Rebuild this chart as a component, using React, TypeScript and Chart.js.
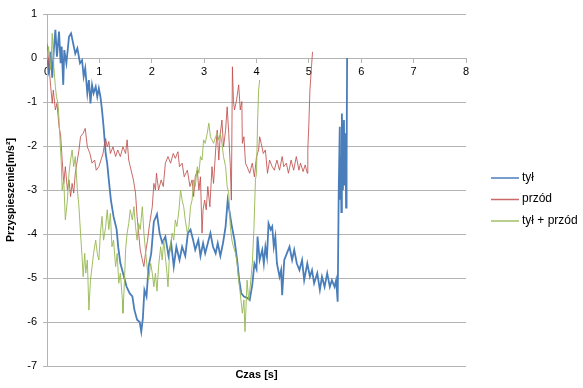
import { useEffect, useRef } from "react";
import { Chart, registerables } from "chart.js";

Chart.register(...registerables);

const seriesNames = ["tył", "przód", "tył + przód"];
const seriesColors = ["#4A7EBB", "rgba(192,80,77,0.85)", "rgba(155,187,89,0.95)"];
const xTitle = "Czas [s]";
const yTitle = "Przyspieszenie[m/s²]";

const tyl: [number, number][] = [
  [0, 0.03], [0.03, -0.27], [0.07, 0.14], [0.1, -0.45], [0.13, 0.18], [0.16, 0.64], [0.19, 0.03], [0.23, 0.6],
  [0.26, -0.12], [0.28, 0.26], [0.31, -0.61], [0.33, 0.18], [0.37, -0.12], [0.42, 0.48], [0.46, 0.56], [0.5, 0.33],
  [0.54, 0.1], [0.58, 0.22], [0.63, -0.12], [0.67, -0.05], [0.7, -0.42], [0.73, -0.23], [0.77, -0.8], [0.8, -0.5],
  [0.83, -1.03], [0.86, -0.61], [0.89, -0.8], [0.93, -0.65], [0.96, -0.88], [0.99, -0.69], [1.02, -0.88], [1.05, -1.18],
  [1.08, -1.56], [1.1, -1.86], [1.12, -2.17], [1.15, -2.4], [1.18, -2.77], [1.22, -3.23], [1.27, -3.6], [1.33, -3.9],
  [1.36, -4.3], [1.4, -4.66], [1.47, -4.97], [1.52, -5.2], [1.58, -5.35], [1.63, -5.42], [1.67, -5.73], [1.72, -5.95],
  [1.77, -6.0], [1.8, -6.22], [1.83, -5.92], [1.86, -5.27], [1.9, -5.42], [1.94, -4.74], [1.99, -4.44], [2.04, -3.72],
  [2.1, -3.55], [2.15, -3.98], [2.2, -4.2], [2.26, -4.06], [2.32, -4.5], [2.37, -4.2], [2.42, -4.74], [2.47, -4.29],
  [2.53, -4.59], [2.58, -4.29], [2.64, -4.5], [2.69, -3.98], [2.74, -3.9], [2.79, -4.14], [2.83, -4.36], [2.89, -4.14],
  [2.93, -4.5], [2.98, -4.21], [3.02, -4.44], [3.07, -4.21], [3.12, -3.98], [3.17, -4.29], [3.22, -4.44], [3.26, -4.21],
  [3.31, -4.5], [3.36, -4.21], [3.41, -3.83], [3.45, -3.23], [3.49, -3.53], [3.53, -3.83], [3.58, -4.14], [3.63, -4.59],
  [3.67, -5.05], [3.71, -5.35], [3.76, -5.42], [3.82, -5.45], [3.87, -5.5], [3.92, -5.15], [3.96, -4.67], [4.0, -4.8],
  [4.02, -4.06], [4.06, -4.59], [4.11, -4.36], [4.14, -4.67], [4.17, -4.29], [4.2, -4.52], [4.23, -3.76], [4.27, -3.9],
  [4.3, -3.83], [4.33, -4.29], [4.36, -4.06], [4.39, -4.67], [4.44, -4.97], [4.47, -4.82], [4.49, -5.39], [4.53, -4.59],
  [4.58, -4.44], [4.63, -4.29], [4.68, -4.59], [4.72, -4.36], [4.77, -4.67], [4.82, -4.82], [4.87, -4.59], [4.91, -5.05],
  [4.97, -4.67], [5.02, -4.97], [5.06, -4.82], [5.1, -5.12], [5.16, -4.89], [5.21, -5.27], [5.25, -4.97], [5.3, -5.2],
  [5.35, -4.89], [5.4, -5.2], [5.44, -5.05], [5.49, -5.2], [5.52, -5.05], [5.55, -5.54], [5.57, -3.0], [5.59, -1.56],
  [5.6, -3.2], [5.61, -2.24], [5.62, -3.5], [5.63, -1.26], [5.64, -1.86], [5.65, -3.0], [5.67, -1.41], [5.68, -2.9],
  [5.69, -2.39], [5.7, -1.71], [5.71, -3.4], [5.72, -2.5], [5.73, 0.0],
];

const przod: [number, number][] = [
  [0, 0.33], [0.03, -0.05], [0.07, -0.65], [0.1, -1.03], [0.12, -0.73], [0.16, -1.18], [0.19, -1.03], [0.23, -1.56],
  [0.26, -1.75], [0.29, -2.32], [0.32, -2.85], [0.35, -2.47], [0.39, -3.0], [0.42, -2.77], [0.45, -3.15], [0.48, -2.85],
  [0.51, -3.07], [0.54, -2.62], [0.58, -2.32], [0.61, -2.1], [0.64, -1.79], [0.69, -1.71], [0.73, -1.6], [0.77, -2.02],
  [0.82, -2.17], [0.86, -2.39], [0.91, -2.32], [0.94, -2.55], [0.99, -2.47], [1.03, -2.32], [1.07, -2.17], [1.1, -1.94],
  [1.12, -1.83], [1.15, -2.02], [1.18, -1.9], [1.21, -2.17], [1.26, -2.02], [1.31, -2.24], [1.35, -2.09], [1.4, -2.24],
  [1.45, -2.02], [1.5, -2.17], [1.53, -1.86], [1.56, -2.32], [1.59, -2.47], [1.65, -2.77], [1.69, -3.07], [1.72, -3.6],
  [1.75, -3.98], [1.78, -4.36], [1.82, -4.59], [1.85, -4.74], [1.88, -4.44], [1.92, -4.14], [1.96, -3.76], [2.01, -3.38],
  [2.04, -2.85], [2.07, -3.0], [2.09, -2.62], [2.13, -3.0], [2.18, -2.77], [2.22, -2.92], [2.26, -2.39], [2.31, -2.24],
  [2.36, -2.39], [2.41, -2.17], [2.45, -2.28], [2.5, -2.13], [2.53, -2.47], [2.58, -2.39], [2.62, -2.7], [2.68, -2.55],
  [2.73, -2.92], [2.77, -2.77], [2.8, -3.15], [2.83, -2.7], [2.87, -2.55], [2.9, -3.0], [2.93, -2.7], [2.96, -3.98],
  [2.98, -3.45], [3.01, -3.23], [3.04, -3.45], [3.07, -2.92], [3.11, -3.38], [3.15, -2.47], [3.18, -2.85], [3.22, -2.09],
  [3.25, -1.64], [3.28, -2.32], [3.31, -1.71], [3.34, -1.41], [3.37, -2.02], [3.41, -1.64], [3.44, -1.11], [3.47, -1.71],
  [3.5, -2.47], [3.52, -3.23], [3.54, -0.2], [3.56, -1.0], [3.58, -1.18], [3.62, -0.95], [3.66, -0.61], [3.69, -1.18],
  [3.72, -0.99], [3.73, -1.94], [3.76, -1.79], [3.79, -2.39], [3.82, -2.47], [3.87, -2.62], [3.92, -2.39], [3.96, -2.7],
  [4.0, -2.24], [4.04, -2.09], [4.06, -1.79], [4.09, -1.94], [4.13, -2.17], [4.17, -2.09], [4.21, -2.62], [4.25, -2.32],
  [4.3, -2.47], [4.34, -2.55], [4.39, -2.32], [4.44, -2.55], [4.49, -2.24], [4.52, -2.47], [4.57, -2.39], [4.61, -2.62],
  [4.66, -2.32], [4.71, -2.55], [4.76, -2.24], [4.81, -2.55], [4.84, -2.39], [4.89, -2.58], [4.93, -2.43], [4.97, -2.62],
  [4.98, -2.09], [5.0, -1.48], [5.02, -0.73], [5.05, -0.2], [5.07, 0.14],
];

const suma: [number, number][] = [
  [0, -0.05], [0.03, 0.26], [0.07, -0.27], [0.1, 0.56], [0.13, -0.2], [0.16, -0.65], [0.18, -0.88], [0.21, -1.03],
  [0.23, -1.41], [0.25, -1.9], [0.27, -2.32], [0.29, -3.0], [0.32, -2.77], [0.35, -3.68], [0.39, -3.23], [0.42, -2.62],
  [0.45, -2.32], [0.48, -2.09], [0.51, -2.47], [0.54, -2.24], [0.58, -3.0], [0.61, -3.38], [0.64, -3.98], [0.67, -4.52],
  [0.69, -4.97], [0.72, -4.44], [0.74, -4.89], [0.77, -4.59], [0.8, -5.73], [0.83, -5.05], [0.86, -4.74], [0.89, -4.44],
  [0.93, -4.14], [0.96, -4.44], [0.99, -4.59], [1.02, -3.98], [1.05, -3.6], [1.08, -4.14], [1.12, -3.83], [1.15, -3.45],
  [1.18, -3.9], [1.21, -3.53], [1.24, -4.29], [1.27, -4.14], [1.31, -4.74], [1.34, -4.44], [1.37, -5.12], [1.4, -4.89],
  [1.44, -5.5], [1.45, -5.8], [1.48, -5.05], [1.5, -4.36], [1.53, -3.98], [1.56, -3.76], [1.59, -3.45], [1.63, -3.68],
  [1.66, -3.38], [1.69, -3.83], [1.72, -4.14], [1.75, -3.76], [1.78, -3.9], [1.82, -3.38], [1.85, -3.98], [1.88, -4.36],
  [1.91, -4.74], [1.94, -5.05], [1.98, -4.67], [2.01, -4.89], [2.04, -5.2], [2.07, -4.89], [2.1, -5.3], [2.13, -4.74],
  [2.17, -4.29], [2.2, -4.59], [2.23, -4.14], [2.26, -4.52], [2.29, -4.89], [2.31, -5.2], [2.34, -4.44], [2.39, -3.98],
  [2.42, -4.14], [2.45, -3.68], [2.48, -3.83], [2.52, -3.45], [2.55, -3.0], [2.58, -3.23], [2.61, -3.38], [2.64, -3.68],
  [2.68, -3.98], [2.71, -3.83], [2.74, -3.38], [2.77, -3.23], [2.8, -2.77], [2.83, -2.92], [2.87, -2.47], [2.9, -2.62],
  [2.93, -2.24], [2.96, -2.32], [2.99, -1.86], [3.02, -1.94], [3.06, -1.71], [3.09, -1.48], [3.12, -1.79], [3.15, -1.86],
  [3.18, -1.94], [3.22, -1.79], [3.25, -1.71], [3.28, -1.86], [3.31, -1.71], [3.34, -1.94], [3.37, -2.24], [3.41, -2.47],
  [3.44, -2.92], [3.47, -3.07], [3.5, -3.83], [3.53, -4.14], [3.56, -4.29], [3.6, -4.44], [3.63, -4.67], [3.66, -5.05],
  [3.69, -5.35], [3.73, -5.8], [3.76, -5.5], [3.78, -6.22], [3.8, -5.65], [3.82, -5.05], [3.85, -5.5], [3.88, -5.2],
  [3.92, -4.67], [3.95, -3.9], [3.98, -2.77], [4.0, -2.62], [4.02, -1.48], [4.04, -0.73], [4.06, -0.5],
];

const seriesData = [tyl, przod, suma];
const seriesWidths = [1.8, 1, 1];

const FONT = "'Liberation Sans', Arial, sans-serif";

const extrasPlugin = {
  id: "extras",
  afterDraw(chart: any) {
    const { ctx, chartArea } = chart;
    ctx.save();
    ctx.fillStyle = "#000";
    ctx.font = `bold 11px ${FONT}`;
    ctx.textAlign = "center";
    ctx.textBaseline = "middle";
    ctx.fillText(xTitle, (chartArea.left + chartArea.right) / 2, chartArea.bottom + 9);

    const lx = 491;
    const rows = [177.5, 199, 220.5];
    ctx.font = `12px ${FONT}`;
    ctx.textAlign = "left";
    chart.data.datasets.forEach((ds: any, i: number) => {
      const y = rows[i];
      ctx.strokeStyle = ds.borderColor;
      ctx.lineWidth = 1.5;
      ctx.beginPath();
      ctx.moveTo(lx, y + 0.5);
      ctx.lineTo(lx + 28, y + 0.5);
      ctx.stroke();
      ctx.fillStyle = "#000";
      ctx.fillText(ds.label, lx + 31, y);
    });
    ctx.restore();
  },
};

export default function App() {
  const ref = useRef<HTMLCanvasElement | null>(null);

  useEffect(() => {
    if (!ref.current) return;
    const gridColor = "#b4b4b4";
    const chart = new Chart(ref.current, {
      type: "scatter",
      data: {
        datasets: seriesNames.map((name, i) => ({
          label: name,
          data: seriesData[i].map(([x, y]) => ({ x, y })),
          showLine: true,
          borderColor: seriesColors[i],
          backgroundColor: seriesColors[i],
          borderWidth: seriesWidths[i],
          pointRadius: 0,
          pointHoverRadius: 0,
          tension: 0,
          order: 3 - i,
        })),
      },
      options: {
        responsive: false,
        animation: false,
        events: [],
        layout: { padding: { left: 0, right: 117, top: 14, bottom: 22 } },
        plugins: {
          legend: { display: false },
          tooltip: { enabled: false },
        },
        scales: {
          x: {
            type: "linear",
            min: 0,
            max: 8,
            position: { y: 0 },
            ticks: {
              stepSize: 1,
              color: "#000",
              font: { family: FONT, size: 11 },
              padding: 3,
              maxRotation: 0,
            },
            grid: {
              drawOnChartArea: false,
              drawTicks: true,
              tickLength: 4,
              color: gridColor,
            },
            border: { display: true, color: gridColor },
          },
          y: {
            type: "linear",
            min: -7,
            max: 1,
            ticks: {
              stepSize: 1,
              color: "#000",
              font: { family: FONT, size: 11 },
              padding: 6,
            },
            grid: {
              drawOnChartArea: true,
              drawTicks: true,
              tickLength: 4,
              color: gridColor,
            },
            border: { display: true, color: gridColor },
            title: {
              display: true,
              text: yTitle,
              color: "#000",
              font: { family: FONT, size: 10.5, weight: "bold" },
              padding: { top: 5, bottom: 0 },
            },
            afterFit: (scale: any) => {
              scale.width = 47;
            },
          },
        },
      },
      plugins: [extrasPlugin],
    } as any);
    return () => chart.destroy();
  }, []);

  return (
    <div style={{ position: "fixed", left: 0, top: 0, width: 583, height: 388, background: "#fff" }}>
      <canvas ref={ref} width={583} height={388} style={{ display: "block" }} />
    </div>
  );
}
